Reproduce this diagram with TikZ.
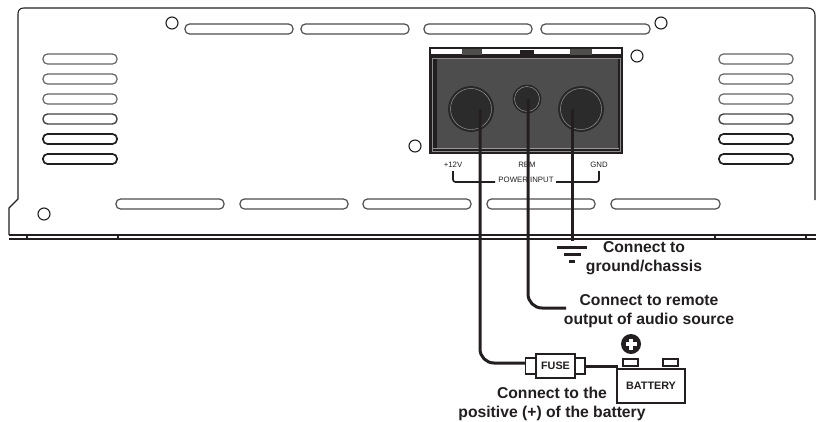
\documentclass[tikz,border=0pt]{standalone}
\usepackage{fontspec}
\setmainfont{Liberation Sans}
\definecolor{ink}{HTML}{231F20}
\definecolor{panel}{HTML}{4D4D4D}
\definecolor{hole}{HTML}{2B2B2B}
\tikzset{
  outline/.style={draw=ink,line width=1.1pt},
  slotlight/.style={draw=ink!70,line width=1.2pt,rounded corners=4.5pt},
  slotmid/.style={draw=ink!85,line width=1.4pt,rounded corners=4.5pt},
  slotdark/.style={draw=ink,line width=1.7pt,rounded corners=4.5pt},
  slotflat/.style={draw=ink!80,line width=1.2pt,rounded corners=4.5pt},
  screw/.style={circle,draw=ink,line width=1.1pt,minimum size=12pt,inner sep=0pt,fill=white},
  wire/.style={draw=ink,line width=3pt,rounded corners=14pt},
  bracket/.style={draw=ink,line width=1.7pt,rounded corners=2.5pt},
  tiny/.style={font=\fontsize{7.8}{9}\selectfont,text=ink,inner sep=0pt},
  callout/.style={font=\fontsize{15.7}{19}\selectfont\bfseries,text=ink,align=center,inner sep=0pt},
  partbox/.style={draw=ink,line width=1.4pt,fill=white},
  partlabel/.style={font=\fontsize{10.8}{12}\selectfont\bfseries,text=ink,inner sep=0pt},
  bigport/.style={circle,fill=hole,draw=ink,line width=0.6pt,minimum size=45pt,inner sep=0pt},
  smallport/.style={circle,fill=hole,draw=ink,line width=0.6pt,minimum size=28pt,inner sep=0pt},
  portring/.style={draw=white!65!black,line width=0.4pt},
}
\begin{document}
\begin{tikzpicture}[x=1pt,y=-1pt]
\useasboundingbox (0,0) rectangle (816,421);
\fill[white] (0,0) rectangle (816,421);
% chassis outline
\draw[outline] (9,235) -- (9,208) -- (18,199) -- (18,14) .. controls (18,10) and (20,8) .. (24,8) -- (808,8) .. controls (812,8) and (815,11) .. (815,15) -- (815,200);
\draw[outline] (9,235) -- (816,235);
\draw[outline] (9,239) -- (816,239);
\foreach \x in {27,118,715,806} \draw[outline] (\x,235) -- (\x,239);
% side slots
\foreach \x in {43,719}{
  \draw[slotlight] (\x,54) rectangle ++(74,10);
  \draw[slotlight] (\x,74) rectangle ++(74,10);
  \draw[slotlight] (\x,94) rectangle ++(74,10);
  \draw[slotmid] (\x,114) rectangle ++(74,10);
  \draw[slotdark] (\x,134) rectangle ++(74,10);
  \draw[slotdark] (\x,154) rectangle ++(74,10);
}
% top slots
\draw[slotflat] (185,24) rectangle (293,34);
\draw[slotflat] (301,24) rectangle (409,34);
\draw[slotflat] (424,24) rectangle (532,34);
\draw[slotflat] (541,24) rectangle (650,34);
% bottom slots
\draw[slotflat] (116,199) rectangle (224,209);
\draw[slotflat] (240,199) rectangle (348,209);
\draw[slotflat] (363,199) rectangle (471,209);
\draw[slotflat] (487,199) rectangle (595,209);
\draw[slotflat] (611,199) rectangle (720,209);
% screws
\node[screw] (s1) at (172,23) {};
\node[screw] (s2) at (44,214) {};
\node[screw] (s3) at (415,146) {};
\node[screw] (s4) at (637,56) {};
\node[screw] (s5) at (661,23) {};
% terminal block
\fill[ink] (429,47) rectangle (623,154);
\fill[white] (431,49) rectangle (621,53.5);
\fill[ink!80] (462,49) rectangle (482,55);
\fill[ink] (520,50) rectangle (534,55);
\fill[ink!80] (570,49) rectangle (592,55);
\draw[white!55!black,line width=0.5pt] (432,58) rectangle (620,151);
\fill[panel] (436.5,59) rectangle (618,148);
\draw[white!60!black,line width=0.5pt] (433,148.5) -- (619,148.5);
\node[bigport] (pos) at (471,109) {};
\node[smallport] (rem) at (527,99) {};
\node[bigport] (gnd) at (581,109) {};
\draw[portring] (pos) circle[radius=20.5];
\draw[portring] (gnd) circle[radius=20.5];
\draw[portring] (rem) circle[radius=12.5];
% terminal labels
\node[tiny] (l12) at (453,165) {+12V};
\node[tiny] (lrem) at (527,165) {RBM};
\node[tiny] (lgnd) at (599,165) {GND};
\node[tiny] (lpow) at (526,179.5) {POWER INPUT};
\draw[bracket] (453,171) -- (453,182) -- (495,182);
\draw[bracket] (556,182) -- (599,182) -- (599,171);
% fuse and battery
\node[partbox,minimum width=10pt,minimum height=16pt,inner sep=0pt] (capl) at (530.5,366) {};
\node[partbox,minimum width=10pt,minimum height=16pt,inner sep=0pt] (capr) at (580,366) {};
\node[partbox,minimum width=39pt,minimum height=24pt,inner sep=0pt] (fuse) at (555.5,366) {};
\node[partlabel] at (fuse.center) {FUSE};
\node[partbox,minimum width=68pt,minimum height=34pt,inner sep=0pt] (batt) at (651,386) {};
\node[partlabel] at (batt.center) {BATTERY};
\node[partbox,minimum width=15pt,minimum height=7pt,inner sep=0pt] (tp) at (630.5,362.5) {};
\node[partbox,minimum width=15pt,minimum height=7pt,inner sep=0pt] (tn) at (670.5,362.5) {};
\node[circle,fill=ink,minimum size=20pt,inner sep=0pt] (plus) at (631,344) {};
\fill[white] (625.5,342.3) rectangle (636.5,345.7);
\fill[white] (629.3,338.5) rectangle (632.7,349.5);
% wires
\coordinate (gend) at (572,241);
\coordinate (remend) at (566,308);
\coordinate (fuseend) at (618,366);
\draw[wire] (480,109) -- (480,363) -- (capl.west |- 0,363);
\draw[wire] (528,99) -- (528,308) -- (remend);
\draw[wire] (572,109) -- (gend);
\draw[draw=ink,line width=3pt] (capr.east |- fuseend) -- (fuseend);
% ground symbol
\draw[ink,line width=3pt] (557,247) -- (587,247);
\draw[ink,line width=3pt] (564,254) -- (581,254);
\draw[ink,line width=3pt] (569,261) -- (575,261);
% callouts
\node[callout] (c1) at (644,258) {Connect to\\ground/chassis};
\node[callout] (c2) at (649,311.5) {Connect to remote\\output of audio source};
\node[callout] (c3) at (552,403.5) {Connect to the\\positive (+) of the battery};
\end{tikzpicture}
\end{document}
